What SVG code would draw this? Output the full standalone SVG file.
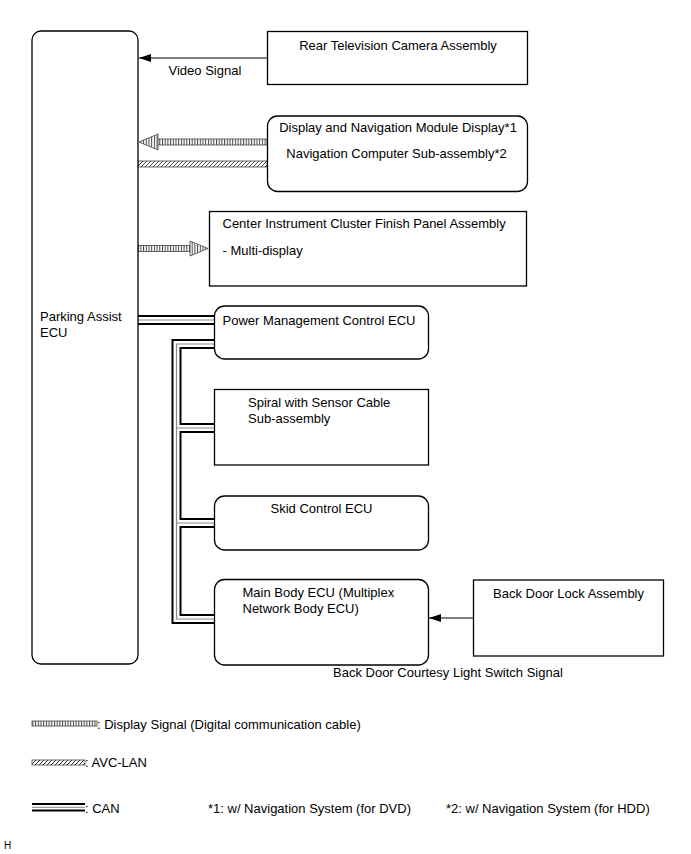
<svg xmlns="http://www.w3.org/2000/svg" width="691" height="854" viewBox="0 0 691 854">
<style>
  text { font-family: "Liberation Sans", Arial, sans-serif; font-size: 13px; fill: #000; }
  .box { fill: #fff; stroke: #000; stroke-width: 1.3; }
  .thin { stroke: #000; stroke-width: 1; fill: none; }
  .canO { stroke: #000; stroke-width: 10; fill: none; }
  .canW { stroke: #fff; stroke-width: 6; fill: none; }
  .canG { stroke: #888; stroke-width: 1.2; fill: none; }
  .stripe { fill: url(#stripes); stroke: #444; stroke-width: 0.8; }
  .hatch { fill: url(#hatch); stroke: #444; stroke-width: 0.8; }
</style>
<defs>
  <pattern id="stripes" patternUnits="userSpaceOnUse" width="2.7" height="10">
    <rect width="2.7" height="10" fill="#fff"/>
    <rect x="0" y="0" width="1" height="10" fill="#444"/>
  </pattern>
  <pattern id="hatch" patternUnits="userSpaceOnUse" width="4" height="4">
    <rect width="4" height="4" fill="#fff"/>
    <path d="M0,4 L4,0 M-1,1 L1,-1 M3,5 L5,3" stroke="#333" stroke-width="1"/>
  </pattern>
  <marker id="arr" markerWidth="12" markerHeight="8" refX="12" refY="4" orient="auto" markerUnits="userSpaceOnUse">
    <path d="M0,0 L12,4 L0,8 Z" fill="#000"/>
  </marker>
</defs>

<g id="connectors">
  <!-- Video signal -->
  <line class="thin" x1="267" y1="58" x2="139" y2="58" marker-end="url(#arr)"/>
  <!-- Display signal to Parking Assist -->
  <rect class="stripe" x="157" y="139" width="110" height="6"/>
  <polygon class="stripe" points="139,142 158,134 158,150"/>
  <!-- AVC-LAN -->
  <rect class="hatch" x="138" y="161" width="129" height="6"/>
  <!-- Display signal to Center Instrument -->
  <rect class="stripe" x="138" y="245.5" width="53" height="6"/>
  <polygon class="stripe" points="190,241 190,256 208,248.5"/>
  <!-- CAN -->
  <g>
    <path class="canO" d="M138,320 H215"/>
    <path class="canO" d="M215,344 H176.5 V619 H215 M176.5,428 H215 M176.5,523 H215"/>
    <path class="canW" d="M138,320 H215"/>
    <path class="canW" d="M215,344 H176.5 V619 H215 M176.5,428 H215 M176.5,523 H215"/>
    <path class="canG" d="M138,320 H215"/>
    <path class="canG" d="M215,344 H176.5 V619 H215 M176.5,428 H215 M176.5,523 H215"/>
  </g>
  <!-- Back door signal -->
  <line class="thin" x1="473" y1="618" x2="429" y2="618" marker-end="url(#arr)"/>
</g>

<g id="parking-assist-ecu">
  <rect class="box" x="32" y="31" width="106" height="633" rx="9"/>
  <text x="40" y="321">Parking Assist</text>
  <text x="40" y="337">ECU</text>
</g>

<g id="rear-camera">
  <rect class="box" x="267.5" y="31.5" width="260" height="53"/>
  <text x="398" y="50" text-anchor="middle">Rear Television Camera Assembly</text>
</g>
<text x="168.5" y="75">Video Signal</text>

<g id="display-nav">
  <rect class="box" x="267.5" y="116" width="260" height="75.5" rx="10"/>
  <text x="398" y="131.5" text-anchor="middle">Display and Navigation Module Display*1</text>
  <text x="396.5" y="158" text-anchor="middle">Navigation Computer Sub-assembly*2</text>
</g>

<g id="center-instrument">
  <rect class="box" x="209.5" y="211.5" width="317" height="74.5"/>
  <text x="222.5" y="228">Center Instrument Cluster Finish Panel Assembly</text>
  <text x="222.5" y="255">- Multi-display</text>
</g>

<g id="power-management">
  <rect class="box" x="214.5" y="306" width="214" height="53" rx="10"/>
  <text x="222.5" y="325">Power Management Control ECU</text>
</g>

<g id="spiral">
  <rect class="box" x="214.5" y="389.5" width="214" height="75.5"/>
  <text x="248" y="406.5">Spiral with Sensor Cable</text>
  <text x="248" y="423">Sub-assembly</text>
</g>

<g id="skid-control">
  <rect class="box" x="214.5" y="496" width="214" height="54" rx="10"/>
  <text x="321.5" y="513" text-anchor="middle">Skid Control ECU</text>
</g>

<g id="main-body">
  <rect class="box" x="214.5" y="579.5" width="214" height="85.5" rx="10"/>
  <text x="242.5" y="596.5">Main Body ECU (Multiplex</text>
  <text x="242.5" y="613">Network Body ECU)</text>
</g>

<g id="back-door-lock">
  <rect class="box" x="473.5" y="580" width="190" height="76"/>
  <text x="493" y="598">Back Door Lock Assembly</text>
</g>
<text x="333" y="677">Back Door Courtesy Light Switch Signal</text>

<g id="legend">
  <rect class="stripe" x="32" y="721" width="65" height="5"/>
  <text x="97" y="729">: Display Signal (Digital communication cable)</text>
  <rect class="hatch" x="32" y="760" width="53" height="5"/>
  <text x="85" y="767">: AVC-LAN</text>
  <line x1="32" y1="804" x2="85" y2="804" stroke="#000" stroke-width="2"/>
  <line x1="32" y1="807.3" x2="85" y2="807.3" stroke="#888" stroke-width="1"/>
  <line x1="32" y1="810.6" x2="85" y2="810.6" stroke="#000" stroke-width="2"/>
  <text x="85" y="813">: CAN</text>
  <text x="208" y="813">*1: w/ Navigation System (for DVD)</text>
  <text x="446" y="813">*2: w/ Navigation System (for HDD)</text>
</g>
<text x="4" y="849" style="font-size:10px">H</text>
</svg>
